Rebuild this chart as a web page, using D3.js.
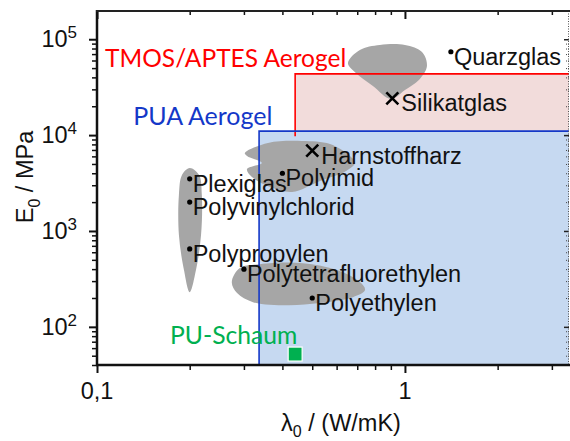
<!DOCTYPE html>
<html><head><meta charset="utf-8">
<script src="https://cdn.jsdelivr.net/npm/d3@7"></script>
<style>body{margin:0;background:#fff} svg{display:block}</style>
</head><body>
<svg id="c" width="570" height="441"></svg>
<script>
// ---- data ----
const dotNames   = ["Quarzglas","Polyimid","Plexiglas","Polyvinylchlorid","Polypropylen","Polytetrafluorethylen","Polyethylen"];
const dotLambda  = [1.41, 0.40, 0.20, 0.20, 0.20, 0.30, 0.50];
const dotE       = [74000, 4000, 3500, 2000, 650, 400, 200];
const crossNames  = ["Silikatglas","Harnstoffharz"];
const crossLambda = [0.91, 0.50];
const crossE      = [24200, 6900];
const foamNames  = ["PU-Schaum"];
const foamLambda = [0.44];
const foamE      = [52];
const regionNames     = ["TMOS/APTES Aerogel","PUA Aerogel"];
const regionLambdaMin = [0.44, 0.336];
const regionEMin      = [11000, 40];
const regionEMax      = [43500, 11000];
const regionLabelLambda = [0.1062, 0.1312];
const regionLabelE      = [51400, 12750];
const foamLabelLambda = [0.1726];
const foamLabelE      = [67];
// material family envelopes (lambda, E)
const blobGlassLambda = [0.653,0.714,0.829,1.000,1.136,1.179,1.110,1.000,0.900,0.787,0.693];
const blobGlassE      = [56560,77300,87200,87200,73700,52640,37600,29600,23810,32540,44480];
const blobPmmaLambda  = [0.200,0.2145,0.219,0.2177,0.2096,0.200,0.1916,0.1845,0.1845,0.1888];
const blobPmmaE       = [4535,3832,2370,906,391,230,391,906,2370,3832];
const blobResinLambda = [0.302,0.359,0.463,0.571,0.663,0.688,0.644,0.530,0.430,0.365,0.3186,0.307,0.343,0.307];
const blobResinE      = [6505,8270,8680,8075,6050,5115,4220,3318,2548,2872,3652,4427,5115,6050];
const blobPolyLambda  = [0.274,0.291,0.338,0.466,0.602,0.714,0.742,0.678,0.530,0.414,0.321,0.285];
const blobPolyE       = [293,410,451,462,391,293,242,204,177,168,181,225];
const xMajorTicks = [0.1, 1];
const xMajorLabels = ["0,1", "1"];
const yMajorTicks = [100, 1000, 10000, 100000];
const yMajorExp = ["2","3","4","5"];
const xDomain = [0.1, 3.41];
const yDomain = [40, 197000];

// ---- layout ----
const L = 97, R = 569, T = 11, B = 365;
const svg = d3.select("#c");
const x = d3.scaleLog().domain(xDomain).range([L, R]);
const y = d3.scaleLog().domain(yDomain).range([B, T]);
const FONT = "'Liberation Sans', Arial, sans-serif";
const CAL = "Lato, 'Open Sans', sans-serif";

svg.append("clipPath").attr("id","clip").append("rect")
  .attr("x", L).attr("y", T).attr("width", R - L).attr("height", B - T);
const plot = svg.append("g").attr("clip-path","url(#clip)");

const regionFill = ["#f2dcdb", "#c6d9f1"];
const regionStroke = ["#ff0000", "#1438c8"];
const regions = regionNames.map((n,i)=>({n, x0: regionLambdaMin[i], y0: regionEMin[i], y1: regionEMax[i], i}));
plot.selectAll("rect.rfill").data(regions).join("rect").attr("class","rfill")
  .attr("x", d => x(d.x0)).attr("y", d => y(d.y1))
  .attr("width", d => x(xDomain[1]) - x(d.x0) + 5)
  .attr("height", d => y(d.y0) - y(d.y1) + 5)
  .attr("fill", d => regionFill[d.i]);

// blobs
const blobs = [
  [blobGlassLambda, blobGlassE],
  [blobPmmaLambda, blobPmmaE],
  [blobResinLambda, blobResinE],
  [blobPolyLambda, blobPolyE]
];
const line = d3.line().x(d => x(d[0])).y(d => y(d[1])).curve(d3.curveCatmullRomClosed.alpha(0.5));
plot.selectAll("path.blob").data(blobs).join("path").attr("class","blob")
  .attr("d", b => line(b[0].map((v,k)=>[v, b[1][k]])))
  .attr("fill", "#a6a6a6");

// region borders: left + top edges (the rest runs outside the frame)
plot.selectAll("path.rborder").data(regions).join("path").attr("class","rborder")
  .attr("d", d => `M${x(d.x0)},${y(d.y0) + 5}V${y(d.y1)}H${R + 5}`)
  .attr("fill", "none").attr("stroke-width", 1.6)
  .attr("stroke", d => regionStroke[d.i]);

// ---- axes ----
const minorX = [];
for (const dec of [0.1, 1]) for (let k = 2; k <= 9; k++) { const v = k*dec; if (v <= xDomain[1]) minorX.push(v); }
const minorY = [];
for (const dec of [10, 100, 1000, 10000, 100000]) for (let k = 2; k <= 9; k++) { const v = k*dec; if (v >= yDomain[0] && v <= yDomain[1]) minorY.push(v); }

function styleAxis(g, w) {
  g.select(".domain").remove();
  g.selectAll("line").attr("stroke", "#111").attr("stroke-width", w);
}
// bottom
svg.append("g").attr("transform", `translate(0,${B})`)
  .call(d3.axisBottom(x).tickValues(minorX).tickSize(5).tickFormat("")).call(g=>styleAxis(g,1.5));
svg.append("g").attr("transform", `translate(0,${B})`)
  .call(d3.axisBottom(x).tickValues(xMajorTicks).tickSize(8).tickFormat("")).call(g=>styleAxis(g,2));
// top
svg.append("g").attr("transform", `translate(0,${T})`)
  .call(d3.axisTop(x).tickValues(minorX).tickSize(-4).tickFormat("")).call(g=>styleAxis(g,1.5));
svg.append("g").attr("transform", `translate(0,${T})`)
  .call(d3.axisTop(x).tickValues(xMajorTicks).tickSize(-8).tickFormat("")).call(g=>styleAxis(g,2));
// left
svg.append("g").attr("transform", `translate(${L},0)`)
  .call(d3.axisLeft(y).tickValues(minorY).tickSize(5).tickFormat("")).call(g=>styleAxis(g,1.5));
svg.append("g").attr("transform", `translate(${L},0)`)
  .call(d3.axisLeft(y).tickValues(yMajorTicks).tickSize(8).tickFormat("")).call(g=>styleAxis(g,2));
// right (dotted)
const rg = svg.append("g").attr("transform", `translate(${R},0)`);
rg.call(d3.axisRight(y).tickValues(minorY).tickSize(-3).tickFormat(""));
rg.select(".domain").remove();
rg.selectAll("line").attr("stroke", "#444").attr("stroke-width", 1).attr("stroke-dasharray", "1,1");
const rg2 = svg.append("g").attr("transform", `translate(${R},0)`);
rg2.call(d3.axisRight(y).tickValues(yMajorTicks).tickSize(-5).tickFormat(""));
rg2.select(".domain").remove();
rg2.selectAll("line").attr("stroke", "#222").attr("stroke-width", 1.5);
svg.append("line").attr("x1", R - 0.5).attr("x2", R - 0.5).attr("y1", T).attr("y2", B)
  .attr("stroke", "#555").attr("stroke-width", 1).attr("stroke-dasharray", "1,1.5");

// axis lines
svg.append("line").attr("x1", L).attr("x2", L).attr("y1", T - 1).attr("y2", B + 1).attr("stroke", "#111").attr("stroke-width", 2.5);
svg.append("line").attr("x1", L - 1).attr("x2", R + 1).attr("y1", B).attr("y2", B).attr("stroke", "#111").attr("stroke-width", 2.5);
svg.append("line").attr("x1", L - 1).attr("x2", R + 1).attr("y1", T).attr("y2", T).attr("stroke", "#222").attr("stroke-width", 2);

// tick labels
svg.selectAll("text.xl").data(xMajorTicks).join("text").attr("class","xl")
  .attr("x", d => x(d)).attr("y", B + 34).attr("text-anchor", "middle")
  .attr("font-family", FONT).attr("font-size", 23.5).attr("fill", "#111")
  .text((d,i) => xMajorLabels[i]);
const yl = svg.selectAll("text.yl").data(yMajorTicks).join("text").attr("class","yl")
  .attr("x", L - 20).attr("y", d => y(d) + 8).attr("text-anchor", "end")
  .attr("font-family", FONT).attr("font-size", 23.5).attr("fill", "#111");
yl.append("tspan").text("10");
yl.append("tspan").attr("dy", -9).attr("font-size", 17).text((d,i) => yMajorExp[i]);

// axis titles
const xt = svg.append("text").attr("x", 341).attr("y", 431).attr("text-anchor", "middle")
  .attr("font-family", FONT).attr("font-size", 23.5).attr("fill", "#111");
xt.append("tspan").text("\u03bb");
xt.append("tspan").attr("font-size", 16).attr("dy", 6).text("0");
xt.append("tspan").attr("dy", -6).text(" / (W/mK)");
const yt = svg.append("text").attr("transform", "translate(33,177) rotate(-90)").attr("text-anchor", "middle")
  .attr("font-family", FONT).attr("font-size", 23.5).attr("fill", "#111");
yt.append("tspan").text("E");
yt.append("tspan").attr("font-size", 16).attr("dy", 7).text("0");
yt.append("tspan").attr("dy", -7).text(" / MPa");

// markers
const dots = dotNames.map((n,i)=>({n, lx: dotLambda[i], e: dotE[i]}));
svg.selectAll("circle.dot").data(dots).join("circle").attr("class","dot")
  .attr("cx", d => x(d.lx)).attr("cy", d => y(d.e)).attr("r", 2.6).attr("fill", "#000");
svg.selectAll("text.dl").data(dots).join("text").attr("class","dl")
  .attr("x", d => x(d.lx) + 3).attr("y", d => y(d.e) + 13)
  .attr("font-family", FONT).attr("font-size", 23.5).attr("fill", "#111").text(d => d.n);

const crosses = crossNames.map((n,i)=>({n, lx: crossLambda[i], e: crossE[i]}));
svg.selectAll("path.cross").data(crosses).join("path").attr("class","cross")
  .attr("d", d => { const cx = x(d.lx), cy = y(d.e), s = 6; return `M${cx-s},${cy-s}L${cx+s},${cy+s}M${cx-s},${cy+s}L${cx+s},${cy-s}`; })
  .attr("stroke", "#000").attr("stroke-width", 2.6);
svg.selectAll("text.cl").data(crosses).join("text").attr("class","cl")
  .attr("x", d => x(d.lx) + 9).attr("y", d => y(d.e) + 13)
  .attr("font-family", FONT).attr("font-size", 23.5).attr("fill", "#111").text(d => d.n);

const foam = foamNames.map((n,i)=>({n, lx: foamLambda[i], e: foamE[i]}));
svg.selectAll("rect.foam").data(foam).join("rect").attr("class","foam")
  .attr("x", d => x(d.lx) - 7).attr("y", d => y(d.e) - 7).attr("width", 14).attr("height", 14)
  .attr("fill", "#00b050").attr("stroke", "#fff").attr("stroke-width", 1.2);

// region labels
svg.selectAll("text.rl").data(regions).join("text").attr("class","rl")
  .attr("x", (d,i) => x(regionLabelLambda[i])).attr("y", (d,i) => y(regionLabelE[i]))
  .attr("font-family", CAL).attr("font-size", (d,i) => i === 0 ? 24.5 : 25).attr("fill", d => regionStroke[d.i]).text(d => d.n);
svg.selectAll("text.fl").data(foam).join("text").attr("class","fl")
  .attr("x", (d,i) => x(foamLabelLambda[i])).attr("y", (d,i) => y(foamLabelE[i]))
  .attr("font-family", CAL).attr("font-size", 24.7).attr("fill", "#00b050").text(d => d.n);
</script>
</body></html>
